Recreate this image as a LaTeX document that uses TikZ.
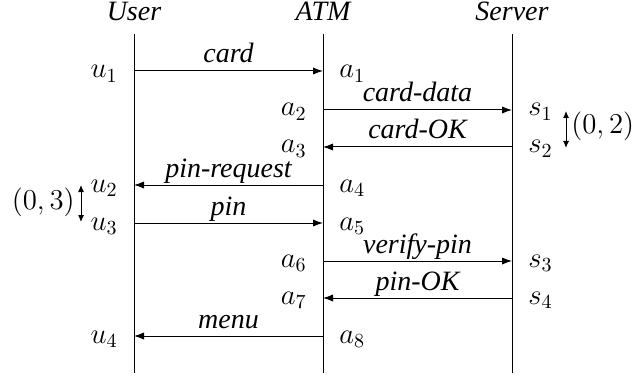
\documentclass[tikz,border=0pt]{standalone}
\usepackage[no-math]{fontspec}
\newfontfamily\tms{Liberation Serif}
\usetikzlibrary{arrows.meta}
\begin{document}
\begin{tikzpicture}[x=0.5pt,y=-0.5pt,
  font=\fontsize{14}{17}\selectfont,
  life/.style={line width=0.5pt},
  msg/.style={line width=0.5pt,-{Latex[length=5pt,width=3.6pt]}},
  dbl/.style={line width=0.5pt,{Latex[length=3.5pt,width=3pt]}-{Latex[length=3.5pt,width=3pt]}},
  mlabel/.style={anchor=base,inner sep=0pt,font=\fontsize{14}{17}\selectfont\tms\itshape},
  ltag/.style={anchor=base east,inner sep=0pt},
  rtag/.style={anchor=base west,inner sep=0pt}]
\useasboundingbox (0,0) rectangle (635,379);
% headers
\node[mlabel] (hU) at (134,21) {User};
\node[mlabel] (hA) at (323,21) {ATM};
\node[mlabel] (hS) at (512,21) {Server};
% lifelines
\coordinate (Ut) at (134,34); \coordinate (Ub) at (134,373);
\coordinate (At) at (323,34); \coordinate (Ab) at (323,373);
\coordinate (St) at (512,34); \coordinate (Sb) at (512,373);
\draw[life] (Ut) -- (Ub);
\draw[life] (At) -- (Ab);
\draw[life] (St) -- (Sb);
% event points
\coordinate (pu1) at (134,71);  \coordinate (pa1) at (323,71);
\coordinate (pa2) at (323,110); \coordinate (ps1) at (512,110);
\coordinate (pa3) at (323,147); \coordinate (ps2) at (512,147);
\coordinate (pa4) at (323,185); \coordinate (pu2) at (134,185);
\coordinate (pu3) at (134,223); \coordinate (pa5) at (323,223);
\coordinate (pa6) at (323,261); \coordinate (ps3) at (512,261);
\coordinate (ps4) at (512,298); \coordinate (pa7) at (323,298);
\coordinate (pa8) at (323,336); \coordinate (pu4) at (134,336);
% messages
\draw[msg] (pu1) -- (pa1);
\draw[msg] (pa2) -- (ps1);
\draw[msg] (ps2) -- (pa3);
\draw[msg] (pa4) -- (pu2);
\draw[msg] (pu3) -- (pa5);
\draw[msg] (pa6) -- (ps3);
\draw[msg] (ps4) -- (pa7);
\draw[msg] (pa8) -- (pu4);
% message labels
\node[mlabel] (m1) at (228.5,63) {card};
\node[mlabel] (m2) at (417.5,102) {card-data};
\node[mlabel] (m3) at (417.5,139) {card-OK};
\node[mlabel] (m4) at (228.5,177) {pin-request};
\node[mlabel] (m5) at (228.5,215) {pin};
\node[mlabel] (m6) at (417.5,253) {verify-pin};
\node[mlabel] (m7) at (417.5,290) {pin-OK};
\node[mlabel] (m8) at (228.5,328) {menu};
% event tags
\node[ltag] (u1) at (118,78)  {$u_1$};
\node[ltag] (u2) at (118,192) {$u_2$};
\node[ltag] (u3) at (118,230) {$u_3$};
\node[ltag] (u4) at (118,343) {$u_4$};
\node[rtag] (a1) at (339,78)  {$a_1$};
\node[ltag] (a2) at (307,116) {$a_2$};
\node[ltag] (a3) at (307,153) {$a_3$};
\node[rtag] (a4) at (339,192) {$a_4$};
\node[rtag] (a5) at (339,230) {$a_5$};
\node[ltag] (a6) at (307,267) {$a_6$};
\node[ltag] (a7) at (307,304) {$a_7$};
\node[rtag] (a8) at (339,343) {$a_8$};
\node[rtag] (s1) at (528,116) {$s_1$};
\node[rtag] (s2) at (528,153) {$s_2$};
\node[rtag] (s3) at (528,267) {$s_3$};
\node[rtag] (s4) at (528,304) {$s_4$};
% delay annotations
\coordinate (d2t) at (566,111); \coordinate (d2b) at (566,148);
\draw[dbl] (d2t) -- (d2b);
\node[anchor=west,inner sep=0pt] (d2) at (571,126) {$(0,2)$};
\coordinate (d3t) at (81,185); \coordinate (d3b) at (81,222);
\draw[dbl] (d3t) -- (d3b);
\node[anchor=east,inner sep=0pt] (d3) at (75,202) {$(0,3)$};
\end{tikzpicture}
\end{document}
